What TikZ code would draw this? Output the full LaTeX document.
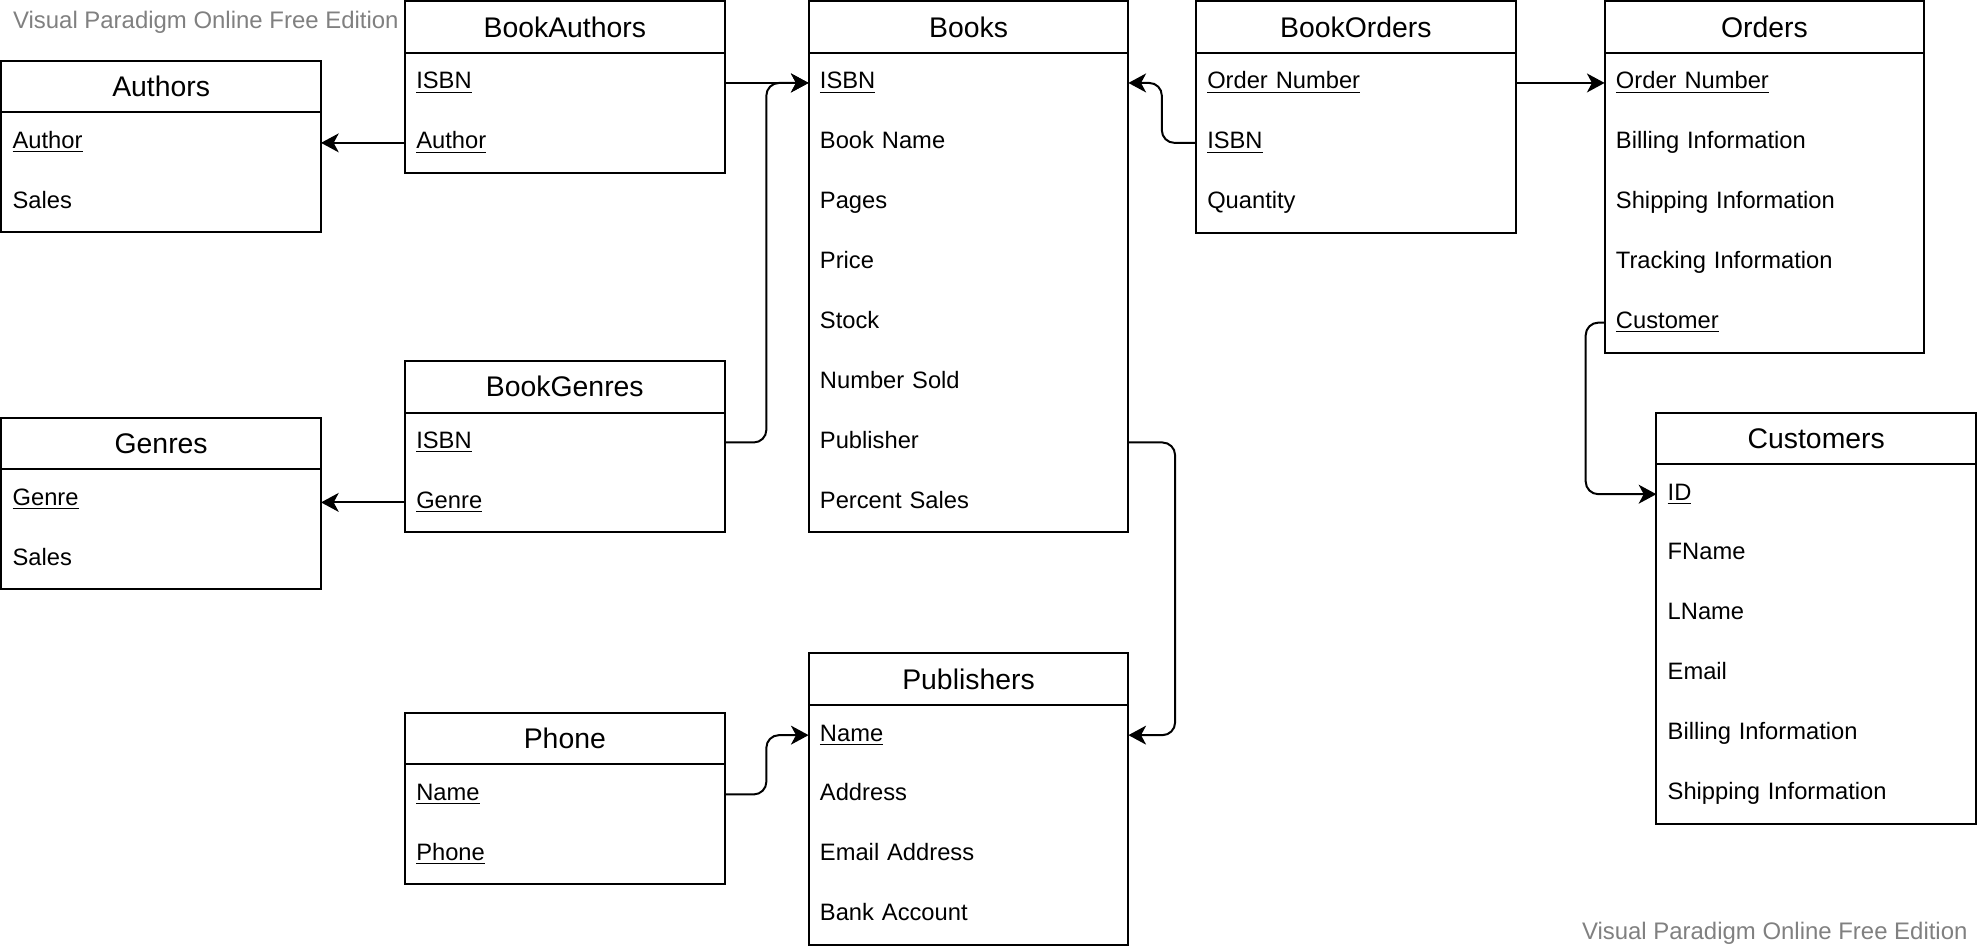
\documentclass[tikz,border=0pt]{standalone}
\usepackage{fontspec}
\setmainfont{Liberation Sans}
\usetikzlibrary{positioning,arrows.meta}
\newcommand{\keyattr}[1]{\underline{#1}}
\begin{document}
\begin{tikzpicture}
        [head/.style={draw, line width=0.9pt, minimum width=5.07cm, minimum height=0.82cm, inner sep=0pt, outer sep=0pt, anchor=north west, font=\fontsize{12.8}{14}\selectfont},
        attr/.style={minimum width=5.07cm, text width=4.71cm, inner xsep=0.18cm, inner ysep=0pt, outer sep=0pt, minimum height=0.95cm, text height=0.75em, text depth=0.22em, align=left, font=\fontsize{10.7}{12}\selectfont},
        box/.style={draw, line width=0.9pt},
        link/.style={line width=0.9pt, rounded corners=0.2cm, -{Stealth[length=0.28cm, width=0.3cm, inset=0.08cm]}},
        watermark/.style={text=gray, font=\fontsize{10.8}{12}\selectfont, inner sep=0pt}]
        \useasboundingbox (0,0) rectangle (31.36,-15.09);

        % Authors
        \node[head] (Authors) at (0.02,-0.96) {Authors};
        \node[attr, below=0 of Authors] (AuthorsAuthor) {\keyattr{Author}};
        \node[attr, below=0 of AuthorsAuthor] (AuthorsSales) {Sales};
        \draw[box] (Authors.north west) rectangle (AuthorsSales.south east);

        % BookAuthors
        \node[head] (BookAuthors) at (6.42,-0.02) {BookAuthors};
        \node[attr, below=0 of BookAuthors] (BookAuthorsISBN) {\keyattr{ISBN}};
        \node[attr, below=0 of BookAuthorsISBN] (BookAuthorsAuthor) {\keyattr{Author}};
        \draw[box] (BookAuthors.north west) rectangle (BookAuthorsAuthor.south east);

        % Books
        \node[head] (Books) at (12.82,-0.02) {Books};
        \node[attr, below=0 of Books] (BooksISBN) {\keyattr{ISBN}};
        \node[attr, below=0 of BooksISBN] (BooksName) {Book Name};
        \node[attr, below=0 of BooksName] (BooksPages) {Pages};
        \node[attr, below=0 of BooksPages] (BooksPrice) {Price};
        \node[attr, below=0 of BooksPrice] (BooksStock) {Stock};
        \node[attr, below=0 of BooksStock] (BooksSold) {Number Sold};
        \node[attr, below=0 of BooksSold] (BooksPublisher) {Publisher};
        \node[attr, below=0 of BooksPublisher] (BooksPercent) {Percent Sales};
        \draw[box] (Books.north west) rectangle (BooksPercent.south east);

        % BookOrders
        \node[head] (BookOrders) at (18.96,-0.02) {BookOrders};
        \node[attr, below=0 of BookOrders] (BookOrdersNumber) {\keyattr{Order Number}};
        \node[attr, below=0 of BookOrdersNumber] (BookOrdersISBN) {\keyattr{ISBN}};
        \node[attr, below=0 of BookOrdersISBN] (BookOrdersQuantity) {Quantity};
        \draw[box] (BookOrders.north west) rectangle (BookOrdersQuantity.south east);

        % Orders
        \node[head] (Orders) at (25.44,-0.02) {Orders};
        \node[attr, below=0 of Orders] (OrdersNumber) {\keyattr{Order Number}};
        \node[attr, below=0 of OrdersNumber] (OrdersBilling) {Billing Information};
        \node[attr, below=0 of OrdersBilling] (OrdersShipping) {Shipping Information};
        \node[attr, below=0 of OrdersShipping] (OrdersTracking) {Tracking Information};
        \node[attr, below=0 of OrdersTracking] (OrdersCustomer) {\keyattr{Customer}};
        \draw[box] (Orders.north west) rectangle (OrdersCustomer.south east);

        % BookGenres
        \node[head] (BookGenres) at (6.42,-5.72) {BookGenres};
        \node[attr, below=0 of BookGenres] (BookGenresISBN) {\keyattr{ISBN}};
        \node[attr, below=0 of BookGenresISBN] (BookGenresGenre) {\keyattr{Genre}};
        \draw[box] (BookGenres.north west) rectangle (BookGenresGenre.south east);

        % Genres
        \node[head] (Genres) at (0.02,-6.62) {Genres};
        \node[attr, below=0 of Genres] (GenresGenre) {\keyattr{Genre}};
        \node[attr, below=0 of GenresGenre] (GenresSales) {Sales};
        \draw[box] (Genres.north west) rectangle (GenresSales.south east);

        % Customers
        \node[head] (Customers) at (26.26,-6.54) {Customers};
        \node[attr, below=0 of Customers] (CustomersID) {\keyattr{ID}};
        \node[attr, below=0 of CustomersID] (CustomersFName) {FName};
        \node[attr, below=0 of CustomersFName] (CustomersLName) {LName};
        \node[attr, below=0 of CustomersLName] (CustomersEmail) {Email};
        \node[attr, below=0 of CustomersEmail] (CustomersBilling) {Billing Information};
        \node[attr, below=0 of CustomersBilling] (CustomersShipping) {Shipping Information};
        \draw[box] (Customers.north west) rectangle (CustomersShipping.south east);

        % Phone
        \node[head] (Phone) at (6.42,-11.30) {Phone};
        \node[attr, below=0 of Phone] (PhoneName) {\keyattr{Name}};
        \node[attr, below=0 of PhoneName] (PhoneNumber) {\keyattr{Phone}};
        \draw[box] (Phone.north west) rectangle (PhoneNumber.south east);

        % Publishers
        \node[head] (Publishers) at (12.82,-10.36) {Publishers};
        \node[attr, below=0 of Publishers] (PublishersName) {\keyattr{Name}};
        \node[attr, below=0 of PublishersName] (PublishersAddress) {Address};
        \node[attr, below=0 of PublishersAddress] (PublishersEmail) {Email Address};
        \node[attr, below=0 of PublishersEmail] (PublishersBank) {Bank Account};
        \draw[box] (Publishers.north west) rectangle (PublishersBank.south east);

        \node[watermark, anchor=west] (MarkTop) at (0.2,-0.36) {Visual Paradigm Online Free Edition};
        \node[watermark, anchor=east] (MarkBottom) at (31.2,-14.8) {Visual Paradigm Online Free Edition};

        \draw[link] (BookAuthorsAuthor.west) -- (AuthorsAuthor.east |- BookAuthorsAuthor.west);
        \draw[link] (BookAuthorsISBN.east) -- (BooksISBN.west);
        \draw[link] (BookGenresISBN.east) -- ++(0.66,0) |- (BooksISBN.west);
        \draw[link] (BookGenresGenre.west) -- (GenresGenre.east |- BookGenresGenre.west);
        \draw[link] (BookOrdersISBN.west) -- ++(-0.54,0) |- (BooksISBN.east);
        \draw[link] (BookOrdersNumber.east) -- (OrdersNumber.west);
        \draw[link] (OrdersCustomer.west) -- ++(-0.3,0) |- (CustomersID.west);
        \draw[link] (BooksPublisher.east) -- ++(0.74,0) |- (PublishersName.east);
        \draw[link] (PhoneName.east) -- ++(0.66,0) |- (PublishersName.west);

    \end{tikzpicture}
\end{document}
